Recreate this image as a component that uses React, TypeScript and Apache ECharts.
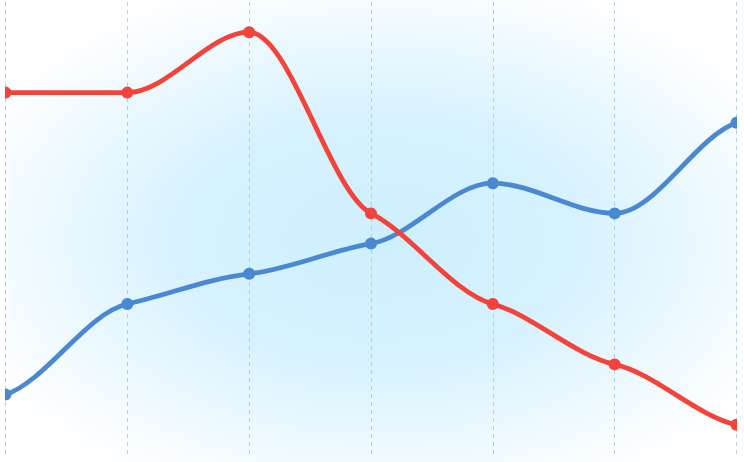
import React, { useEffect, useRef } from 'react';
import * as echarts from 'echarts';

const categories = ['Mon', 'Tue', 'Wed', 'Thu', 'Fri', 'Sat', 'Sun'];
const blueValues = [2, 5, 6, 7, 9, 8, 11];
const redValues = [12, 12, 14, 8, 5, 3, 1];

const BLUE = '#4a89d2';
const RED = '#f4433a';
const TENSION = 0.45;

// soft spline: Hermite segments, x-parametrised, with flattened tangents
const curveSeries = (name: string, values: number[], color: string) => ({
  name,
  type: 'custom',
  data: values.map((v, i) => [i, v]),
  renderItem: (params: any, api: any) => {
    const i = params.dataIndexInside;
    const n = params.dataInsideLength;
    if (i >= n - 1) return null;
    const pt = (k: number) => api.coord([k, api.value(1, k)]);
    const slope = (k: number) => {
      const a = pt(Math.max(k - 1, 0));
      const c = pt(k);
      const b = pt(Math.min(k + 1, n - 1));
      // flat at peaks, valleys and plateaus
      if (k > 0 && k < n - 1 && (c[1] - a[1]) * (b[1] - c[1]) <= 0) return 0;
      return (TENSION * (b[1] - a[1])) / (b[0] - a[0]);
    };
    const p0 = pt(i);
    const p1 = pt(i + 1);
    const h = (p1[0] - p0[0]) / 3;
    return {
      type: 'bezierCurve',
      shape: {
        x1: p0[0],
        y1: p0[1],
        cpx1: p0[0] + h,
        cpy1: p0[1] + slope(i) * h,
        cpx2: p1[0] - h,
        cpy2: p1[1] - slope(i + 1) * h,
        x2: p1[0],
        y2: p1[1],
      },
      style: { stroke: color, lineWidth: 4.8, fill: 'none', lineCap: 'round' },
    };
  },
});

const markerSeries = (name: string, values: number[], color: string) => ({
  name,
  type: 'line',
  data: values,
  symbol: 'circle',
  symbolSize: 12,
  clip: false,
  lineStyle: { width: 0, opacity: 0 },
  itemStyle: { color },
});

const App = () => {
  const chartRef = useRef<HTMLDivElement>(null);

  useEffect(() => {
    const chart = echarts.init(chartRef.current, null, { renderer: 'svg' });

    const option = {
      animation: false,
      backgroundColor: {
        type: 'radial',
        x: 0.51,
        y: 0.52,
        r: 0.6,
        colorStops: [
          { offset: 0, color: '#cdeffe' },
          { offset: 0.45, color: '#d7f2fe' },
          { offset: 1, color: '#ffffff' },
        ],
      },
      grid: {
        left: 5.5,
        right: 7.5,
        top: 2,
        bottom: 7,
      },
      xAxis: {
        type: 'category',
        data: categories,
        boundaryGap: false,
        axisLine: { show: false },
        axisTick: { show: false },
        axisLabel: { show: false },
        splitLine: {
          show: true,
          lineStyle: {
            color: '#b8cddb',
            width: 1,
            type: [4, 4],
          },
        },
      },
      yAxis: {
        type: 'value',
        min: 0,
        max: 15,
        show: false,
        splitLine: { show: false },
      },
      series: [
        curveSeries('Blue line', blueValues, BLUE),
        markerSeries('Blue', blueValues, BLUE),
        curveSeries('Red line', redValues, RED),
        markerSeries('Red', redValues, RED),
      ],
    };

    chart.setOption(option);

    return () => {
      chart.dispose();
    };
  }, []);

  return (
    <div style={{ position: 'fixed', left: 0, top: 0, width: 744, height: 462, background: '#ffffff' }}>
      <div style={{ position: 'absolute', left: 5, top: 0, width: 732, height: 462, overflow: 'hidden' }}>
        <div ref={chartRef} style={{ position: 'absolute', left: -5, top: 0, width: 744, height: 462 }} />
      </div>
    </div>
  );
};

export default App;
